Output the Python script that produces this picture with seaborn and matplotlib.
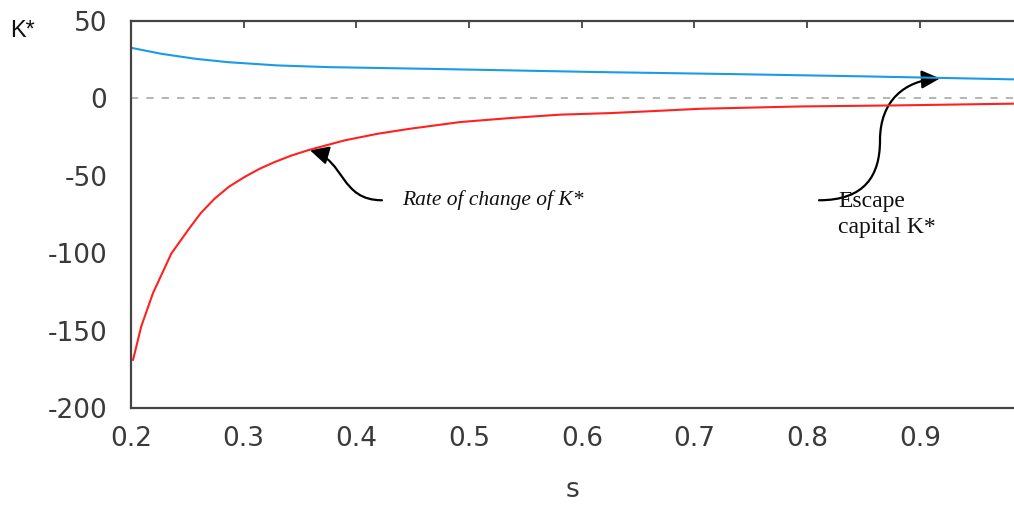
import numpy as np
import pandas as pd
import matplotlib
matplotlib.use("Agg")
import matplotlib.pyplot as plt
import seaborn as sns
from matplotlib.path import Path
from matplotlib.patches import FancyArrowPatch

# ---- data ----
s_escape = [0.200, 0.227, 0.257, 0.286, 0.330, 0.375, 0.464, 0.616, 0.734, 0.853, 0.983]
k_escape = [32.7, 28.8, 25.6, 23.4, 21.3, 20.2, 19.1, 17.0, 15.7, 14.2, 12.3]

s_rate = [0.2018, 0.209, 0.2195, 0.2358, 0.2506, 0.262, 0.2743, 0.287, 0.3009,
          0.314, 0.3275, 0.342, 0.357, 0.3896, 0.4192, 0.4476, 0.4919, 0.5363,
          0.5807, 0.625, 0.6632, 0.705, 0.794, 0.882, 0.983]
k_rate = [-169, -147.5, -125.8, -100.2, -85.1, -74.0, -64.7, -57.0, -50.7,
          -45.5, -41.1, -37.0, -33.5, -27.1, -22.8, -19.6, -15.3, -12.7,
          -10.5, -9.5, -8.2, -6.7, -5.2, -4.5, -3.4]

x_ticks = [0.2, 0.3, 0.4, 0.5, 0.6, 0.7, 0.8, 0.9]
y_ticks = [50, 0, -50, -100, -150, -200]

sns.set_style("white")
plt.rcParams["font.family"] = ["DejaVu Sans"]

fig = plt.figure(figsize=(10.14, 5.05), dpi=100)
ax = fig.add_axes([131 / 1014, 1 - 408 / 505, 1 - 131 / 1014, (408 - 21) / 505])

df_e = pd.DataFrame({"s": s_escape, "K": k_escape})
df_r = pd.DataFrame({"s": s_rate, "K": k_rate})
sns.lineplot(data=df_e, x="s", y="K", ax=ax, color="#1a9be8", linewidth=1.5)
sns.lineplot(data=df_r, x="s", y="K", ax=ax, color="#ff2020", linewidth=1.5)

ax.axhline(0, color="#b0b0b0", linewidth=1.3, dashes=(4, 4.5), zorder=0)

ax.set_xlim(0.2, 0.9835)
ax.set_ylim(-200, 50)
ax.set_xticks(x_ticks)
ax.set_xticklabels([f"{v:.1f}" for v in x_ticks])
ax.set_yticks(y_ticks)
ax.set_yticklabels([str(v) for v in y_ticks])

for side in ["left", "bottom", "top"]:
    ax.spines[side].set_color("#444444")
    ax.spines[side].set_linewidth(1.6)
ax.spines["right"].set_visible(False)

ax.tick_params(axis="both", direction="in", length=5, width=1.3, color="#444444",
               labelsize=19, labelcolor="#3a3a3a")
ax.tick_params(axis="x", top=True, pad=13)
ax.tick_params(axis="y", pad=17)

ax.set_xlabel("s", fontsize=19, color="#3a3a3a", labelpad=18)
ax.set_ylabel("")
fig.text(10 / 1014, 1 - 31 / 505, "K*", fontsize=17, color="#111111",
         va="center", ha="left", family=["Liberation Sans", "DejaVu Sans"])

# ---- annotations ----
serif = ["Liberation Serif", "DejaVu Serif"]
ax.text(0.4405, -65.8, "Rate of change of K*", fontsize=15.5, style="italic",
        family=serif, va="center", ha="left", color="#111111")
ax.text(0.8273, -75.0, "Escape\ncapital K*", fontsize=17, family=serif,
        va="center", ha="left", color="#111111", linespacing=1.35)

arrow_style = "-|>,head_length=0.7,head_width=0.35"

p1 = Path([(0.4227, -65.8), (0.3855, -65.8), (0.3899, -40.0), (0.3588, -33.5)],
          [Path.MOVETO, Path.CURVE4, Path.CURVE4, Path.CURVE4])
a1 = FancyArrowPatch(path=p1, arrowstyle=arrow_style, mutation_scale=16,
                     color="black", linewidth=1.6, transform=ax.transData)
ax.add_patch(a1)

p2 = Path([(0.8105, -65.8), (0.8513, -65.8), (0.8646, -49.7), (0.8646, -27.1),
           (0.8646, -1.3), (0.8868, 11.6), (0.9178, 12.9)],
          [Path.MOVETO, Path.CURVE4, Path.CURVE4, Path.CURVE4,
           Path.CURVE4, Path.CURVE4, Path.CURVE4])
a2 = FancyArrowPatch(path=p2, arrowstyle=arrow_style, mutation_scale=16,
                     color="black", linewidth=1.6, transform=ax.transData)
ax.add_patch(a2)

fig.savefig("out.png", dpi=100)
